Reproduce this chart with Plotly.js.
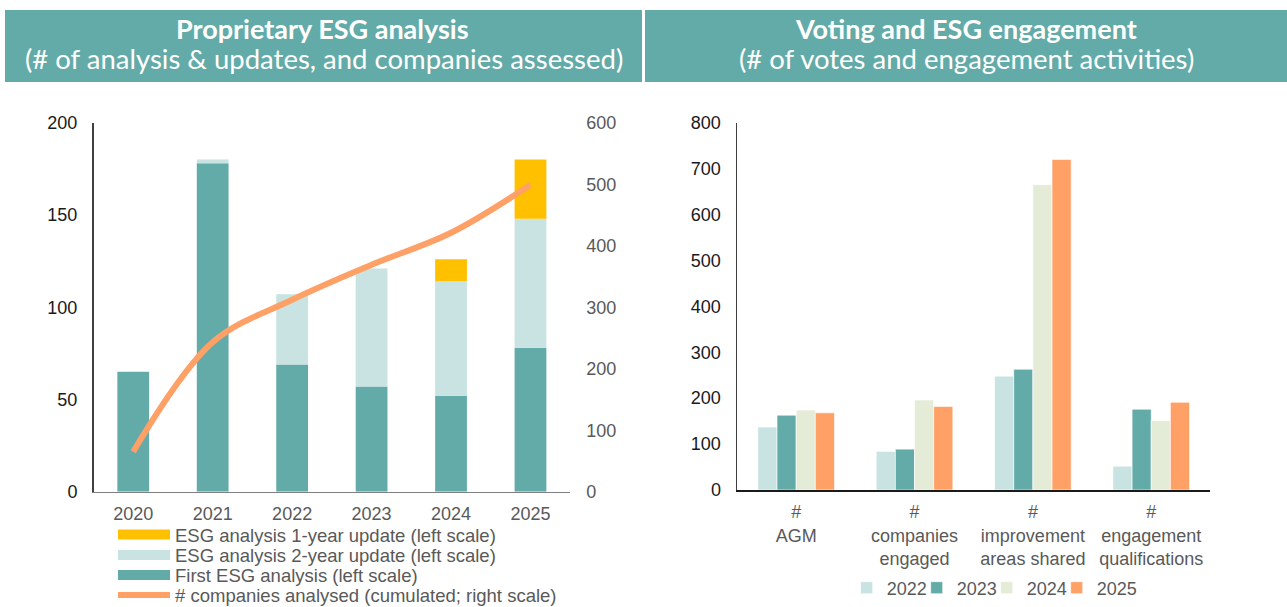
<!DOCTYPE html>
<html>
<head>
<meta charset="utf-8">
<script src="https://cdn.plot.ly/plotly-3.0.1.min.js"></script>
<style>html,body{margin:0;padding:0;background:#fff;}#chart{width:1287px;height:607px;}</style>
</head>
<body>
<div id="chart"></div>
<script>
// ---- Left chart data ----
const years = ['2020', '2021', '2022', '2023', '2024', '2025'];
const firstAnalysis = [65, 178, 69, 57, 52, 78];
const twoYearUpdate = [0, 2, 38, 64, 62, 70];
const oneYearUpdate = [0, 0, 0, 0, 12, 32];
const companiesCumulated = [65, 243, 312, 369, 421, 499];

// ---- Right chart data ----
const activities = ['#<br>AGM', '#<br>companies<br>engaged', '#<br>improvement<br>areas shared', '#<br>engagement<br>qualifications'];
const seriesYears = ['2022', '2023', '2024', '2025'];
const v2022 = [137, 84, 248, 52];
const v2023 = [163, 89, 263, 176];
const v2024 = [174, 196, 665, 151];
const v2025 = [168, 182, 720, 191];

const TEAL = '#63ABA8', LIGHT = '#C9E2E2', GOLD = '#FFC000', ORANGE = '#FFA066', PALE = '#E4ECD7';
const GREY = '#595959';
const FONT = 'Liberation Sans, Arial, sans-serif';

const W = 1287, H = 607;
const px = v => v / W, py = v => (H - v) / H;

const base2 = firstAnalysis.slice();
const base1 = firstAnalysis.map((v, i) => v + twoYearUpdate[i]);

const traces = [];
traces.push({type: 'bar', x: years, y: firstAnalysis, width: 0.4, marker: {color: TEAL},
  name: 'First ESG analysis (left scale)', showlegend: false, xaxis: 'x', yaxis: 'y'});
traces.push({type: 'bar', x: years, y: twoYearUpdate, base: base2, width: 0.4, marker: {color: LIGHT},
  name: 'ESG analysis 2-year update (left scale)', showlegend: false, xaxis: 'x', yaxis: 'y'});
traces.push({type: 'bar', x: years, y: oneYearUpdate, base: base1, width: 0.4, marker: {color: GOLD},
  name: 'ESG analysis 1-year update (left scale)', showlegend: false, xaxis: 'x', yaxis: 'y'});
traces.push({type: 'scatter', mode: 'lines', x: years, y: companiesCumulated, xaxis: 'x', yaxis: 'y2',
  line: {color: ORANGE, width: 6, shape: 'spline', smoothing: 1}, name: '# companies analysed (cumulated; right scale)',
  legend: 'legend6'});
// legend swatches for the stacked bars
[['ESG analysis 1-year update (left scale)', GOLD, 'legend3'], ['ESG analysis 2-year update (left scale)', LIGHT, 'legend4'], ['First ESG analysis (left scale)', TEAL, 'legend5']]
  .forEach(([n, c, lg]) => traces.push({type: 'scatter', mode: 'lines', x: [null], y: [null], xaxis: 'x', yaxis: 'y',
    line: {color: c, width: 10}, name: n, legend: lg, hoverinfo: 'skip'}));

const rightSeries = [v2022, v2023, v2024, v2025];
const rightColors = [LIGHT, TEAL, PALE, ORANGE];
const rightLegends = ['legend2', 'legend7', 'legend8', 'legend9'];
const w = 0.1618;
rightSeries.forEach((vals, i) => traces.push({type: 'bar', x: activities, y: vals, name: seriesYears[i],
  width: w, offset: -2 * w + i * w, marker: {color: rightColors[i], line: {color: 'rgba(255,255,255,0.6)', width: 1}},
  xaxis: 'x3', yaxis: 'y3', legend: rightLegends[i]}));

function leftLegend(yc) {
  return {x: px(113), xanchor: 'left', y: py(yc), yanchor: 'middle', orientation: 'v',
    itemwidth: 52, font: {size: 18.5, color: GREY}, bgcolor: 'rgba(0,0,0,0)'};
}
function rightLegend(textStart) {
  return {x: px(textStart - 35), xanchor: 'left', y: py(588), yanchor: 'middle', orientation: 'v',
    font: {size: 18, color: GREY}, bgcolor: 'rgba(0,0,0,0)'};
}

const axCommon = {showgrid: false, zeroline: false, ticks: '', automargin: false, fixedrange: true};
const layout = {
  width: W, height: H, margin: {l: 0, r: 0, t: 0, b: 0, pad: 0, autoexpand: false},
  paper_bgcolor: '#fff', plot_bgcolor: 'rgba(0,0,0,0)',
  barmode: 'overlay', showlegend: true,
  font: {family: FONT, size: 18, color: GREY},
  xaxis: Object.assign({}, axCommon, {domain: [px(93.5), px(570.2)], anchor: 'y', type: 'category', showline: true, linecolor: '#7f7f7f', linewidth: 1.5,
    tickangle: 0, tickfont: {size: 18, color: GREY}, ticklabelstandoff: 5}),
  yaxis: Object.assign({}, axCommon, {domain: [py(491.7), py(122.7)], anchor: 'x', range: [0, 200], dtick: 50, showline: true, linecolor: '#404040', linewidth: 1.5,
    tickfont: {size: 18, color: '#1a1a1a'}, ticklabelstandoff: 11}),
  yaxis2: Object.assign({}, axCommon, {overlaying: 'y', side: 'right', anchor: 'x', range: [0, 600], dtick: 100, showline: false,
    tickfont: {size: 18, color: GREY}, ticklabelstandoff: 15}),
  xaxis3: Object.assign({}, axCommon, {domain: [px(737), px(1210.4)], anchor: 'y3', type: 'category', showline: true, linecolor: '#1a1a1a', linewidth: 1.5,
    tickangle: 0, tickfont: {size: 18, color: GREY}, ticklabelstandoff: 5}),
  yaxis3: Object.assign({}, axCommon, {domain: [py(490), py(122.7)], anchor: 'x3', range: [0, 800], dtick: 100, showline: true, linecolor: '#404040', linewidth: 1.5,
    tickfont: {size: 18, color: '#1a1a1a'}, ticklabelstandoff: 11}),
  legend: {visible: false},
  legend3: leftLegend(535),
  legend4: leftLegend(555.5),
  legend5: leftLegend(575.5),
  legend6: leftLegend(595.5),
  legend2: rightLegend(881.7),
  legend7: rightLegend(951.7),
  legend8: rightLegend(1021.7),
  legend9: rightLegend(1091.7),
  shapes: [
    {type: 'rect', xref: 'paper', yref: 'paper', x0: px(5), x1: px(642), y0: py(82), y1: py(10), fillcolor: '#63ABA8', line: {width: 0}, layer: 'below'},
    {type: 'rect', xref: 'paper', yref: 'paper', x0: px(645), x1: px(1287), y0: py(82), y1: py(10), fillcolor: '#63ABA8', line: {width: 0}, layer: 'below'}
  ],
  annotations: [
    {xref: 'paper', yref: 'paper', x: px(323), y: py(29), xanchor: 'center', yanchor: 'middle', showarrow: false,
      text: '<b>Proprietary ESG analysis</b>', font: {family: 'Lato, sans-serif', size: 27, color: '#fff'}},
    {xref: 'paper', yref: 'paper', x: px(324), y: py(58), xanchor: 'center', yanchor: 'middle', showarrow: false,
      text: '(# of analysis & updates, and companies assessed)', font: {family: 'Lato, sans-serif', size: 27.5, color: '#fff'}},
    {xref: 'paper', yref: 'paper', x: px(966), y: py(29), xanchor: 'center', yanchor: 'middle', showarrow: false,
      text: '<b>Voting and ESG engagement</b>', font: {family: 'Lato, sans-serif', size: 27, color: '#fff'}},
    {xref: 'paper', yref: 'paper', x: px(966), y: py(58), xanchor: 'center', yanchor: 'middle', showarrow: false,
      text: '(# of votes and engagement activities)', font: {family: 'Lato, sans-serif', size: 27.5, color: '#fff'}}
  ]
};

Plotly.newPlot('chart', traces, layout, {displayModeBar: false, staticPlot: true});
</script>
</body>
</html>
